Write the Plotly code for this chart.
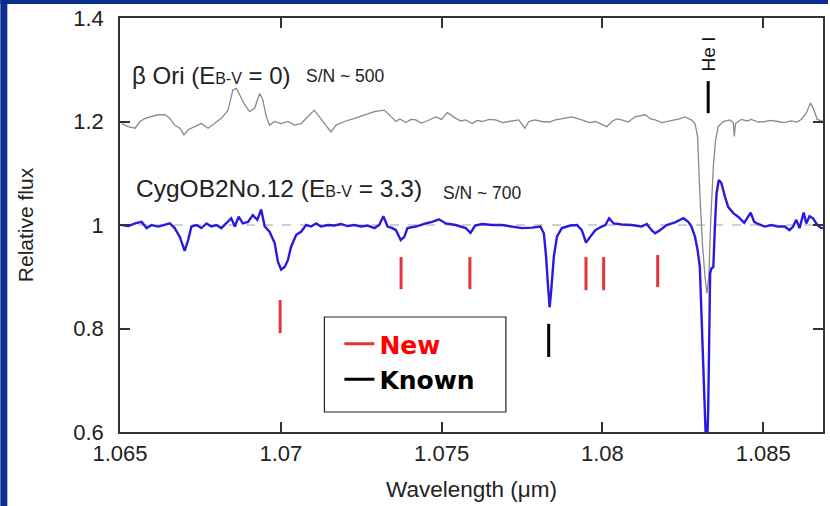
import plotly.graph_objects as go

# beta Ori spectrum (offset by +0.2 for display)
ori_wl = [1.06505, 1.06525, 1.06547, 1.06562, 1.06578, 1.06598, 1.06618, 1.06640, 1.06655, 1.06670,
          1.06686, 1.06699, 1.06712, 1.06732, 1.06753, 1.06774, 1.06794, 1.06815, 1.06836, 1.06851,
          1.06862, 1.06872, 1.06888, 1.06903, 1.06919, 1.06934, 1.06944, 1.06955, 1.06965, 1.06981,
          1.07001, 1.07022, 1.07043, 1.07063, 1.07084, 1.07104, 1.07120, 1.07136, 1.07156, 1.07172,
          1.07198, 1.07229, 1.07260, 1.07291, 1.07322, 1.07337, 1.07358, 1.07370, 1.07389, 1.07405,
          1.07420, 1.07436, 1.07451, 1.07482, 1.07500, 1.07518, 1.07544, 1.07560, 1.07575, 1.07595,
          1.07610, 1.07626, 1.07648, 1.07668, 1.07690, 1.07709, 1.07740, 1.07759, 1.07771, 1.07790,
          1.07812, 1.07835, 1.07854, 1.07880, 1.07905, 1.07936, 1.07960, 1.07978, 1.08014, 1.08029,
          1.08045, 1.08060, 1.08080, 1.08102, 1.08133, 1.08150, 1.08164, 1.08185, 1.08200, 1.08215,
          1.08240, 1.08257, 1.08277, 1.08288, 1.08296, 1.08303, 1.08311, 1.08319, 1.08325, 1.08331,
          1.08337, 1.08345, 1.08352, 1.08360, 1.08376, 1.08396, 1.08407, 1.08410, 1.08414, 1.08432,
          1.08450, 1.08463, 1.08485, 1.08505, 1.08525, 1.08546, 1.08565, 1.08587, 1.08605, 1.08618,
          1.08634, 1.08647, 1.08658, 1.08668, 1.08686]
ori_flux = [1.196, 1.190, 1.187, 1.200, 1.206, 1.209, 1.213, 1.213, 1.206, 1.193,
            1.187, 1.174, 1.184, 1.190, 1.196, 1.187, 1.196, 1.206, 1.222, 1.261,
            1.264, 1.251, 1.232, 1.219, 1.226, 1.254, 1.242, 1.209, 1.193, 1.200,
            1.196, 1.200, 1.193, 1.196, 1.209, 1.222, 1.209, 1.196, 1.180, 1.193,
            1.200, 1.206, 1.213, 1.219, 1.222, 1.213, 1.200, 1.205, 1.198, 1.204,
            1.203, 1.197, 1.200, 1.209, 1.204, 1.217, 1.206, 1.201, 1.203, 1.196,
            1.202, 1.200, 1.204, 1.203, 1.198, 1.200, 1.203, 1.187, 1.200, 1.203,
            1.200, 1.199, 1.203, 1.206, 1.209, 1.203, 1.198, 1.200, 1.190, 1.200,
            1.205, 1.203, 1.199, 1.209, 1.213, 1.205, 1.203, 1.198, 1.200, 1.201,
            1.205, 1.209, 1.203, 1.196, 1.171, 1.061, 0.965, 0.900, 0.868, 0.900,
            1.010, 1.113, 1.164, 1.190, 1.200, 1.203, 1.198, 1.171, 1.196, 1.204,
            1.201, 1.204, 1.199, 1.200, 1.202, 1.200, 1.198, 1.201, 1.199, 1.204,
            1.216, 1.236, 1.222, 1.204, 1.200]

# Cyg OB2 No.12 spectrum
cyg_wl = [1.06505, 1.06526, 1.06547, 1.06567, 1.06583, 1.06598, 1.06619, 1.06640, 1.06655, 1.06670,
          1.06686, 1.06701, 1.06712, 1.06722, 1.06738, 1.06753, 1.06769, 1.06784, 1.06800, 1.06815,
          1.06831, 1.06846, 1.06857, 1.06869, 1.06882, 1.06898, 1.06913, 1.06927, 1.06939, 1.06950,
          1.06965, 1.06981, 1.06991, 1.07001, 1.07012, 1.07022, 1.07032, 1.07048, 1.07063, 1.07079,
          1.07094, 1.07110, 1.07125, 1.07146, 1.07167, 1.07187, 1.07208, 1.07229, 1.07249, 1.07270,
          1.07291, 1.07306, 1.07319, 1.07332, 1.07347, 1.07358, 1.07373, 1.07384, 1.07394, 1.07420,
          1.07451, 1.07471, 1.07492, 1.07513, 1.07544, 1.07575, 1.07590, 1.07604, 1.07626, 1.07657,
          1.07688, 1.07719, 1.07750, 1.07781, 1.07807, 1.07818, 1.07825, 1.07831, 1.07836, 1.07841,
          1.07849, 1.07859, 1.07874, 1.07900, 1.07921, 1.07936, 1.07949, 1.07962, 1.07978, 1.07998,
          1.08009, 1.08021, 1.08035, 1.08060, 1.08091, 1.08122, 1.08138, 1.08153, 1.08164, 1.08179,
          1.08200, 1.08226, 1.08252, 1.08267, 1.08277, 1.08288, 1.08296, 1.08303, 1.08308, 1.08314,
          1.08319, 1.08322, 1.08326, 1.08329, 1.08332, 1.08335, 1.08339, 1.08345, 1.08350, 1.08355,
          1.08362, 1.08370, 1.08381, 1.08391, 1.08407, 1.08422, 1.08441, 1.08451, 1.08461, 1.08472,
          1.08484, 1.08505, 1.08525, 1.08546, 1.08567, 1.08582, 1.08593, 1.08603, 1.08613, 1.08626,
          1.08634, 1.08644, 1.08655, 1.08668, 1.08681, 1.08695]
cyg_flux = [1.000, 0.998, 1.003, 1.006, 0.994, 1.000, 0.997, 1.000, 1.003, 0.994,
            0.977, 0.950, 0.971, 0.997, 1.000, 0.994, 1.003, 0.997, 1.000, 0.994,
            1.003, 1.013, 0.997, 1.016, 1.003, 1.006, 1.019, 1.010, 1.030, 0.997,
            0.987, 0.965, 0.929, 0.914, 0.919, 0.932, 0.958, 0.981, 0.987, 1.000,
            0.997, 1.003, 0.997, 1.000, 0.999, 1.002, 0.998, 1.000, 0.997, 0.999,
            0.994, 1.000, 1.017, 0.997, 0.994, 0.990, 0.971, 0.977, 0.994, 0.997,
            1.003, 1.006, 1.011, 1.003, 1.000, 0.994, 0.985, 0.999, 1.002, 1.000,
            1.000, 0.997, 0.994, 0.995, 0.997, 0.984, 0.939, 0.881, 0.841, 0.874,
            0.939, 0.978, 0.994, 0.999, 1.000, 0.990, 0.966, 0.977, 0.990, 0.997,
            1.000, 1.013, 1.003, 1.001, 1.000, 0.997, 1.002, 0.990, 0.984, 0.990,
            1.000, 1.005, 1.013, 1.006, 0.997, 0.977, 0.952, 0.919, 0.836, 0.739,
            0.643, 0.580, 0.580, 0.643, 0.772, 0.907, 0.916, 0.919, 1.000, 1.061,
            1.087, 1.081, 1.055, 1.035, 1.023, 1.016, 1.004, 1.013, 1.024, 1.006,
            1.002, 0.997, 1.000, 0.997, 0.997, 0.990, 0.997, 1.010, 0.994, 1.024,
            1.003, 1.017, 1.013, 1.000, 0.994, 0.994]

# Line identifications: wavelength, lower and upper end of each tick mark
new_wl = [1.06998, 1.07374, 1.07588, 1.07949, 1.08004, 1.08172]
new_lo = [0.791, 0.876, 0.876, 0.874, 0.874, 0.880]
new_hi = [0.855, 0.938, 0.938, 0.938, 0.938, 0.942]
known_wl = [1.07833]
known_lo = [0.745]
known_hi = [0.809]
hei_wl = [1.08329]
hei_lo = [1.216]
hei_hi = [1.278]

x_ticks = [1.065, 1.07, 1.075, 1.08, 1.085]
x_ticktext = ["1.065", "1.07", "1.075", "1.08", "1.085"]
y_ticks = [0.6, 0.8, 1.0, 1.2, 1.4]
y_ticktext = ["0.6", "0.8", "1", "1.2", "1.4"]


def segments(wl, lo, hi):
    xs, ys = [], []
    for w, a, b in zip(wl, lo, hi):
        xs += [w, w, None]
        ys += [a, b, None]
    return xs, ys


FONT = "Liberation Sans, Arial, Helvetica, sans-serif"
TXT = "#222222"
FRAME = "#0b2d8e"

fig = go.Figure()

fig.add_trace(go.Scatter(x=ori_wl, y=ori_flux, mode="lines",
                         line=dict(color="#8a8a8a", width=1.3), showlegend=False))
fig.add_trace(go.Scatter(x=cyg_wl, y=cyg_flux, mode="lines",
                         line=dict(color="#2a1adf", width=2.4), showlegend=False))

nx, ny = segments(new_wl, new_lo, new_hi)
fig.add_trace(go.Scatter(x=nx, y=ny, mode="lines", line=dict(color="#e8323c", width=3),
                         name="<span style='color:#ff0000'><b>New</b></span>",
                         legendgroup="a"))
kx, ky = segments(known_wl, known_lo, known_hi)
fig.add_trace(go.Scatter(x=kx, y=ky, mode="lines", line=dict(color="#000000", width=3),
                         name="<b>Known</b>", legendgroup="b"))
hx, hy = segments(hei_wl, hei_lo, hei_hi)
fig.add_trace(go.Scatter(x=hx, y=hy, mode="lines", line=dict(color="#000000", width=3),
                         showlegend=False))

# paper-coordinate helpers for the 830x506 canvas
L, R, T, B = 120, 5, 18, 74
PW, PH = 830 - L - R, 506 - T - B


def px(x):
    return (x - L) / PW


def py(y):
    return (506 - B - y) / PH


shapes = [
    # dark blue slide frame on the left and top edges
    dict(type="rect", xref="paper", yref="paper", x0=px(0), x1=px(7), y0=py(506), y1=py(0),
         fillcolor=FRAME, line=dict(width=0), layer="below"),
    dict(type="rect", xref="paper", yref="paper", x0=px(0), x1=px(830), y0=py(4), y1=py(0),
         fillcolor=FRAME, line=dict(width=0), layer="below"),
    # continuum level
    dict(type="line", xref="paper", yref="y", x0=0, x1=1, y0=1, y1=1,
         line=dict(color="#a0a0a0", width=1, dash="dash"), layer="below"),
    # legend frame
    dict(type="rect", xref="paper", yref="paper", x0=px(325), x1=px(507), y0=py(412), y1=py(317),
         fillcolor="white", line=dict(color="#222222", width=1.2), layer="below"),
]

sub = "<span style='font-size:16px'>B-V</span>"
annotations = [
    dict(x=px(130), y=py(76), xref="paper", yref="paper", xanchor="left", yanchor="middle",
         text="β Ori (E" + sub + " = 0)", showarrow=False,
         font=dict(family=FONT, size=24, color=TXT)),
    dict(x=px(305), y=py(76), xref="paper", yref="paper", xanchor="left", yanchor="middle",
         text="S/N ~ 500", showarrow=False, font=dict(family=FONT, size=17.5, color=TXT)),
    dict(x=px(134), y=py(188), xref="paper", yref="paper", xanchor="left", yanchor="middle",
         text="CygOB2No.12 (E" + sub + " = 3.3)", showarrow=False,
         font=dict(family=FONT, size=24.5, color=TXT)),
    dict(x=px(442), y=py(193), xref="paper", yref="paper", xanchor="left", yanchor="middle",
         text="S/N ~ 700", showarrow=False, font=dict(family=FONT, size=17.5, color=TXT)),
    dict(x=hei_wl[0], y=1.330, xref="x", yref="y", xanchor="center", yanchor="middle",
         text="He I", textangle=-90, showarrow=False, font=dict(family=FONT, size=19, color="#111111")),
]

axis_common = dict(showline=True, linecolor="#333333", linewidth=1.5, mirror="ticks",
                   ticks="inside", ticklen=10, tickwidth=1.5, tickcolor="#333333",
                   showgrid=False, zeroline=False,
                   tickfont=dict(family=FONT, size=22, color=TXT))

fig.update_layout(
    width=830, height=506,
    margin=dict(l=L, r=R, t=T, b=B),
    paper_bgcolor="white", plot_bgcolor="white",
    shapes=shapes, annotations=annotations,
    xaxis=dict(range=[1.065, 1.08686], tickvals=x_ticks, ticktext=x_ticktext,
               ticklabelstandoff=1,
               title=dict(text="Wavelength (μm)", font=dict(family=FONT, size=22.5, color=TXT), standoff=16),
               **axis_common),
    yaxis=dict(range=[0.6, 1.4], tickvals=y_ticks, ticktext=y_ticktext,
               ticklabelstandoff=10,
               title=dict(text="Relative flux", font=dict(family=FONT, size=21, color=TXT), standoff=34),
               **axis_common),
    legend=dict(x=px(340), y=py(321), xanchor="left", yanchor="top",
                bgcolor="rgba(0,0,0,0)", borderwidth=0, tracegroupgap=0,
                font=dict(family="DejaVu Sans, sans-serif", size=25, color="#000000")),
)

fig.write_html("out.html")
